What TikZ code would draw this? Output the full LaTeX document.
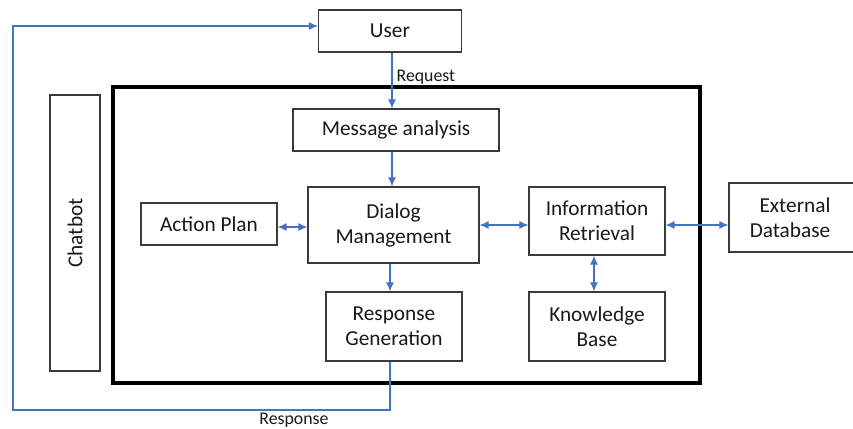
\documentclass[tikz,border=0pt]{standalone}
\usepackage{fontspec}
\setmainfont{Carlito}
\usetikzlibrary{arrows.meta}
\definecolor{flow}{HTML}{4472C4}
\definecolor{edge}{HTML}{3A3A3A}
\begin{document}
\begin{tikzpicture}[x=1pt,y=-1pt,
  blk/.style={draw=edge,line width=1.1pt,fill=white,inner sep=0pt,align=center,
    font=\fontsize{21.3}{25}\selectfont,text=black!90},
  conn/.style={draw=flow,line width=1.3pt,-{Latex[length=9pt,width=8pt]}},
  bconn/.style={draw=flow,line width=1.3pt,{Latex[length=9pt,width=8pt]}-{Latex[length=9pt,width=8pt]}},
  lbl/.style={font=\fontsize{17.8}{20}\selectfont,text=black!90,inner sep=0pt}]
\useasboundingbox (0,0) rectangle (853,428);
\clip (0,0) rectangle (853,428);
\fill[white] (0,0) rectangle (853,428);
% frame
\draw[line width=4pt] (112.5,87) rectangle (700,383);
% nodes
\node[blk,minimum width=143pt,minimum height=42pt] (user) at (390,31) {User};
\node[blk,minimum width=206pt,minimum height=42pt] (msg) at (396,130) {Message analysis};
\node[blk,minimum width=171pt,minimum height=76pt] (dlg) at (393.5,225) {Dialog\\Management};
\node[blk,minimum width=136pt,minimum height=42pt] (act) at (209,224) {Action Plan};
\node[blk,minimum width=136pt,minimum height=69pt] (gen) at (394,326.5) {Response\\Generation};
\node[blk,minimum width=136pt,minimum height=68pt] (info) at (597,221) {Information\\Retrieval};
\node[blk,minimum width=136pt,minimum height=69pt] (kb) at (597,326.5) {Knowledge\\Base};
\node[blk,minimum width=132pt,minimum height=69pt,text width=132pt] (ext) at (795,217.5) {External\\Database\hspace*{10pt}};
\node[blk,minimum width=50pt,minimum height=276pt] (bot) at (75,233) {};
\node[blk,draw=none,fill=none,rotate=90] (bottxt) at (bot.center) {Chatbot};
% connectors
\coordinate (rq) at (392,0);
\draw[conn] (user.south -| rq) -- (msg.north -| rq) node[lbl,pos=0.45,anchor=west,xshift=4pt] {Request};
\draw[conn] (msg.south -| rq) -- (dlg.north -| rq);
\coordinate (rs) at (390,0);
\draw[conn] (dlg.south -| rs) -- (gen.north -| rs);
\coordinate (ya) at (0,227);
\draw[bconn] (act.east |- ya) -- (dlg.west |- ya);
\coordinate (yb) at (0,225);
\draw[bconn] (dlg.east |- yb) -- (info.west |- yb);
\draw[bconn] (info.east |- yb) -- (ext.west |- yb);
\coordinate (xk) at (594,0);
\draw[bconn] (info.south -| xk) -- (kb.north -| xk);
\coordinate (c1) at (390,410);
\coordinate (c2) at (13,410);
\coordinate (c3) at (13,26);
\draw[conn,line width=1.1pt] (gen.south -| rs) -- (c1) -- (c2) -- (c3) -- (user.west |- c3);
\node[lbl] (resp) at (294,420) {Response};
\end{tikzpicture}
\end{document}
